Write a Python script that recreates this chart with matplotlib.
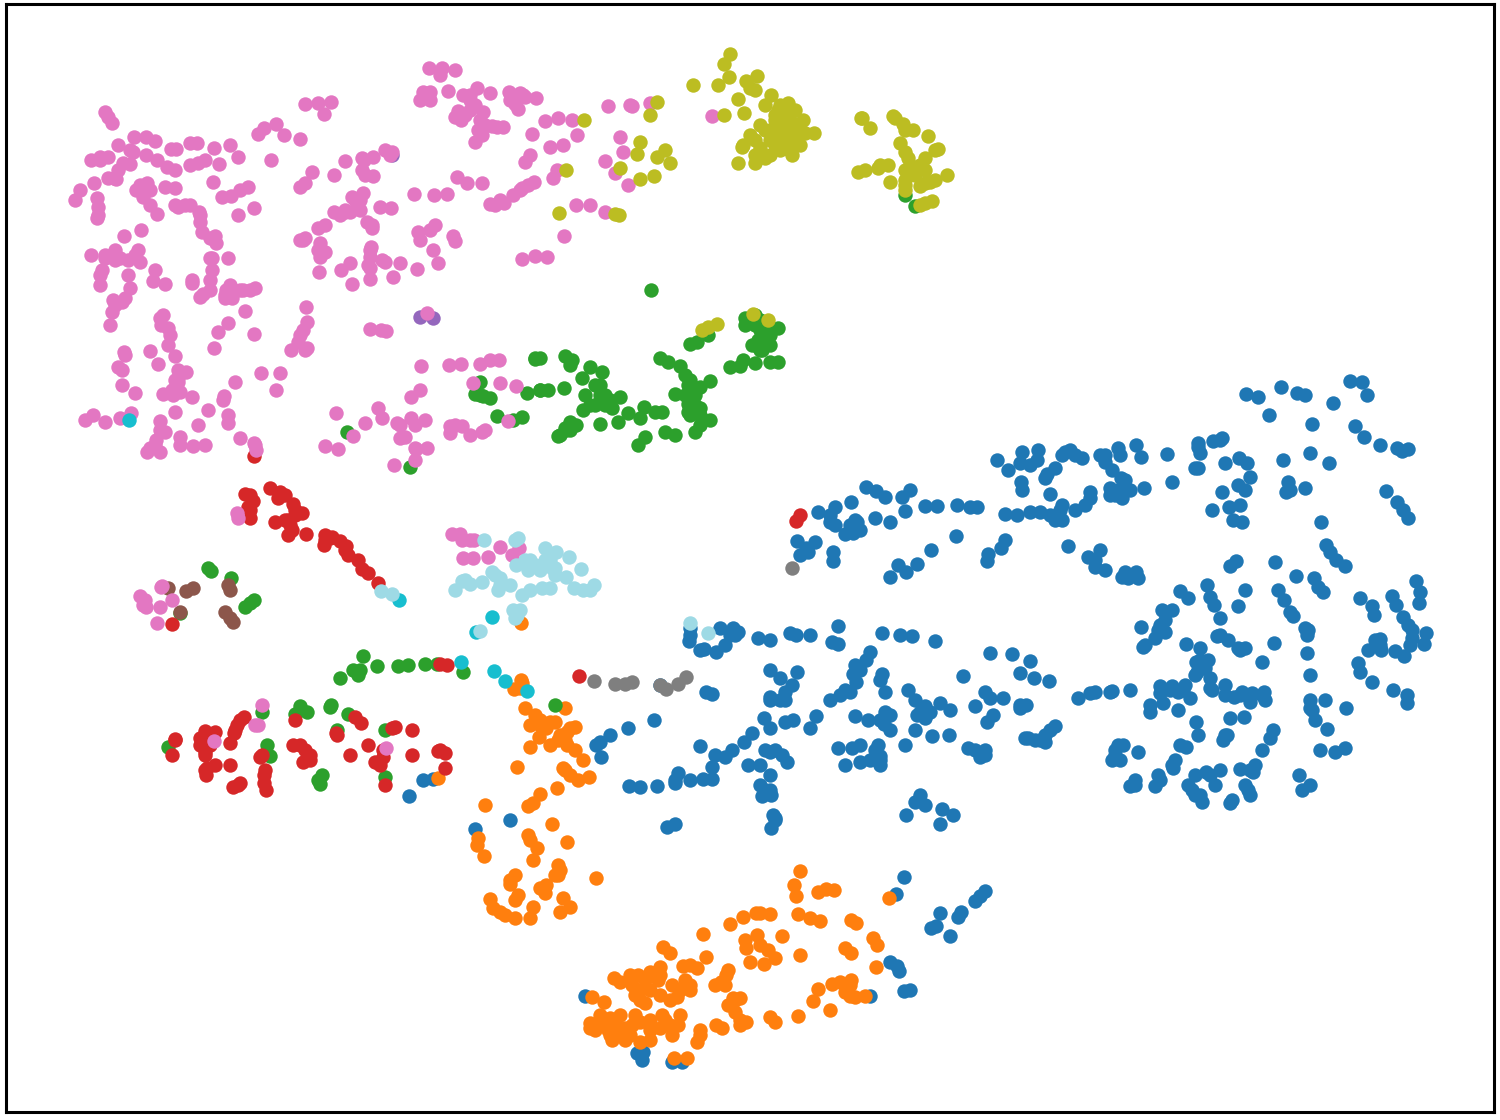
import matplotlib
matplotlib.use("Agg")
import matplotlib.pyplot as plt

pink = [(105,112),(108,117),(112,123),(134,137),(146,137),(155,141),(118,145),(133,152),(146,155),(157,160),(171,149),(176,149),(190,143),(197,143),(214,148),(230,145),(238,157),(219,164),(205,160),(198,163),(167,167),(100,157),(91,160),(108,157),(123,163),(130,164),(108,178),(116,179),(94,183),(80,190),(75,200),(97,198),(98,207),(97,218),(147,183),(142,190),(136,190),(143,197),(150,205),(157,214),(175,188),(178,207),(190,205),(199,212),(200,222),(202,232),(210,238),(216,243),(213,182),(222,197),(231,196),(240,190),(248,187),(254,208),(238,215),(175,170),
(264,128),(276,124),(284,135),(300,139),(271,160),(258,134),(305,104),(318,103),(331,102),(324,114),(91,255),(105,258),(115,250),(124,236),(141,230),(138,250),(140,262),(120,258),(102,270),(100,285),(130,288),(153,281),(165,284),(128,275),(155,270),(113,300),(125,298),(112,312),(110,325),(124,352),(118,367),(122,370),(158,364),(150,351),(163,315),(161,325),(170,335),(168,345),(175,356),(178,370),(186,372),(122,385),(135,393),(178,382),(180,392),(192,397),(215,236),(212,258),(228,258),(212,270),(210,280),(192,283),(203,294),(226,290),(232,298),(243,290),(255,288),(245,311),(228,323),(218,332),(214,348),(254,334),(261,373),(280,373),(276,390),(235,382),(224,396),(228,415),(228,423),(208,410),(198,425),(205,445),(180,437),(193,446),(175,412),(160,421),(163,394),(173,395),(85,420),(93,415),(105,422),(120,418),(131,413),(165,432),(156,440),(147,452),(160,452),(240,438),(254,443),(256,450),
(306,307),(307,322),(303,330),(298,342),(307,348),(291,350),(370,329),(381,330),(386,331),(312,172),(305,183),(300,187),(334,175),(345,161),(364,160),(373,157),(385,150),(392,152),(365,175),(373,176),(352,197),(363,193),(360,210),(350,212),(340,215),(334,212),(318,228),(305,238),(320,243),(320,257),(319,272),(341,270),(350,263),(371,247),(370,257),(368,265),(382,260),(352,284),(370,279),(393,277),(400,263),(417,269),(438,263),(433,250),(453,236),(455,241),(435,225),(418,232),(414,194),(434,195),(447,194),(457,177),(467,183),(482,183),(372,225),(380,207),(391,208),(420,100),(429,68),(442,68),(455,70),(423,92),(430,100),(448,91),(470,95),(477,88),(490,93),(509,92),(523,95),(536,98),(515,104),(518,109),(458,111),(461,120),(480,120),(492,126),(503,127),(475,142),(482,135),(532,134),(545,121),(558,118),(572,120),(577,135),(563,145),(550,147),(530,155),(525,162),(557,170),(495,205),(504,203),(513,195),(522,188),(534,182),(553,178),(608,106),(632,106),(650,103),(620,137),(605,161),(623,152),(615,173),(628,185),(576,205),(590,205),(605,212),(564,236),(522,259),(535,256),(547,257),(712,116),(421,366),(449,365),(461,364),(480,364),(490,360),(499,360),(500,383),(516,386),(473,383),(420,390),(411,397),(336,413),(325,446),(338,449),(353,436),(365,423),(378,408),(382,418),(397,423),(411,418),(425,420),(405,437),(416,449),(427,448),(400,438),(450,426),(462,426),(470,435),(482,432),(508,421),(394,465),(415,460),(460,534),(452,534),(463,558),(473,558),(488,557),(474,540),(500,547),(512,555),(519,548),(161,587),(140,596),(146,607),(160,607),(157,623),(172,600),(237,513),(238,518),(427,313),(214,741),(258,725),(386,748),(262,705),
(460,118),(455,117),(470,100),(475,105),(485,125),(478,130),(440,75),(430,92),(510,100),(525,97),(483,112),(497,127),(360,200),(345,212),(355,200),(345,210),(372,228),(367,222),(325,225),(303,240),(300,240),(318,250),(325,252),(430,230),(420,240),(490,204),(500,200),(520,190),(528,185),(145,185),(150,190),(140,185),(165,187),(175,205),(185,205),(200,215),(98,215),(115,260),(105,255),(135,255),(128,260),(100,275),(115,305),(122,302),(230,285),(225,298),(240,290),(210,290),(200,297),(192,280),(160,318),(168,328),(125,355),(178,378),(172,390),(155,445),(150,448),(180,445),(255,445),(415,425),(400,425),(455,425),(450,433),(485,430),(462,540),(470,540),(118,170),(100,160),(114,178),(190,165),(130,150),(210,258),(225,295),(390,155),(305,350),(300,335),(385,262),(370,250),(362,170),(362,158),(520,93),(463,95),(470,110),(465,115),(630,105),(370,268),(250,290),(145,600),(143,605),(162,586),(255,725),(175,380),(160,430),(223,400),(415,448)]
blue = [(1246,394),(1258,397),(1281,387),(1297,393),(1305,395),(1333,403),(1350,381),(1362,382),(1367,395),(1269,415),(1312,424),(1355,426),(1364,437),(1380,445),(1397,448),(1408,449),(1402,451),(1310,453),(1283,460),(1329,463),(1222,438),(1213,441),(1198,443),(1200,453),(1239,458),(1247,463),(1225,463),(1198,468),(1167,454),(1136,445),(1141,457),(1118,448),(1100,455),(1070,450),(1062,455),(1038,450),(1022,452),(997,460),(1020,463),(1008,470),(1037,460),(1055,468),(1047,474),(1082,458),(1105,462),(1112,470),(1121,478),(1144,488),(1172,482),(1250,477),(1238,485),(1288,482),(1286,492),(1305,488),(1245,490),(1222,492),(1240,505),(1229,507),(1212,510),(1233,520),(1242,522),(1125,488),(1110,495),(1090,492),(1122,498),(1085,505),(1021,482),(1022,490),(1050,494),(1062,505),(1075,510),(1055,520),(1040,512),(1030,512),(1017,515),(1005,514),(977,507),(970,507),(957,505),(937,506),(925,506),(905,511),(910,490),(902,497),(885,497),(876,491),(866,487),(851,502),(835,507),(818,512),(830,522),(857,522),(890,522),(875,518),(853,533),(845,534),(815,542),(806,548),(797,541),(800,555),(833,552),(833,561),(956,536),(931,550),(917,564),(898,565),(906,572),(890,577),(1005,540),(1001,548),(988,554),(987,561),(1068,546),(1100,550),(1088,557),(1095,567),(1105,570),(1125,572),(1136,572),(1122,577),(1138,578),(1321,522),(1326,545),(1330,552),(1336,560),(1345,566),(1386,491),(1397,502),(1403,510),(1408,518),(1236,561),(1230,566),(1275,562),(1296,576),(1314,578),(1318,587),(1323,592),(1290,612),(1293,616),(1278,590),(1284,600),(1245,590),(1238,606),(1207,585),(1180,591),(1188,598),(1210,597),(1214,605),(1360,598),(1372,606),(1374,615),(1392,596),(1396,605),(1416,581),(1420,592),(1419,603),(1403,617),(1408,625),(1426,633),(1412,638),(1424,644),(1380,639),(1368,650),(1381,650),(1395,651),(1404,656),(1358,663),(1360,672),(1372,682),(1393,690),(1407,695),(1407,703),(1162,610),(1172,610),(1141,627),(1143,647),(1160,625),(1155,638),(1165,632),(1186,644),(1220,618),(1217,636),(1228,640),(1238,648),(1245,648),(1200,648),(1208,660),(1196,662),(1274,643),(1262,662),(1308,630),(1307,653),(1310,675),(1325,700),(1346,708),(1312,710),(1315,720),(1327,729),(1197,672),(1210,678),(1160,686),(1172,686),(1183,690),(1130,690),(1112,691),(1090,693),(1078,698),(1190,698),(1210,688),(1225,685),(1242,692),(1252,693),(1264,692),(1234,697),(1250,702),(1150,705),(1163,703),(1178,710),(1196,722),(1230,718),(1244,717),(1198,735),(1227,735),(1223,740),(1273,730),(1270,738),(1262,750),(1118,745),(1123,745),(1115,755),(1112,760),(1138,752),(1186,747),(1175,760),(1173,768),(1206,772),(1220,770),(1240,769),(1255,765),(1253,772),(1299,775),(1320,750),(1345,748),(1335,752),(1135,780),(1130,786),(1158,775),(1155,786),(1188,785),(1195,795),(1202,802),(1215,785),(1232,800),(1245,785),(1250,795),(1310,785),(1302,790),
(690,628),(689,641),(720,628),(733,628),(738,632),(758,638),(770,640),(790,633),(796,635),(810,635),(838,626),(832,642),(838,644),(882,633),(900,635),(912,636),(935,641),(704,649),(716,652),(725,645),(870,652),(866,660),(853,674),(856,682),(882,674),(885,692),(770,670),(780,678),(797,672),(792,685),(785,692),(770,697),(780,700),(706,692),(712,694),(660,685),(990,653),(1012,654),(1030,661),(1020,673),(1034,678),(1049,681),(963,676),(908,690),(915,700),(925,706),(940,703),(950,710),(917,715),(925,718),(985,692),(990,698),(975,706),(1003,698),(1020,705),(1026,705),(993,715),(987,722),(654,720),(628,728),(610,735),(600,742),(596,745),(601,757),(700,746),(715,755),(712,767),(725,757),(732,750),(744,742),(752,733),(764,718),(770,728),(785,722),(793,720),(816,716),(810,728),(830,700),(845,690),(855,716),(868,720),(885,712),(884,724),(890,730),(878,745),(905,745),(915,730),(932,736),(949,735),(968,748),(985,750),(980,757),(1025,738),(1045,742),(1035,740),(1050,730),(1055,726),(838,748),(852,748),(860,745),(845,765),(860,762),(880,765),(880,756),(765,750),(775,750),(782,755),(748,765),(760,765),(787,762),(675,783),(678,773),(690,780),(703,779),(712,779),(629,786),(640,787),(657,786),(770,775),(760,785),(771,795),(762,796),(773,815),(775,820),(771,828),(667,827),(675,824),(920,795),(915,802),(925,805),(906,815),(942,809),(953,815),(940,824),(409,796),(423,780),(433,779),(475,829),(510,820),(985,891),(980,896),(975,901),(961,912),(958,917),(940,913),(936,926),(931,928),(950,936),(904,877),(896,894),(890,962),(897,966),(899,971),(904,991),(910,990),(870,996),(585,996),(637,1053),(642,1060),(672,1062),(682,1062),(643,1052),
(1125,480),(1118,490),(1130,490),(1110,488),(1090,498),(1060,510),(1050,515),(1062,520),(1058,515),(1045,478),(1075,455),(1120,455),(1105,455),(1065,452),(1030,465),(1115,495),(1220,440),(1198,447),(1195,468),(1290,490),(850,525),(855,528),(860,530),(830,515),(835,525),(855,520),(808,552),(1128,578),(1095,560),(1200,660),(1205,668),(1195,675),(1212,690),(1225,695),(1240,695),(1262,695),(1265,700),(1160,693),(1170,690),(1185,685),(1178,692),(1150,712),(1158,630),(1145,645),(1165,620),(1220,635),(1240,650),(1307,635),(1305,628),(1412,630),(1410,645),(1380,645),(1375,640),(1115,750),(1120,760),(1110,692),(1095,692),(1310,700),(1310,708),(1192,790),(1200,795),(1230,803),(1248,790),(1135,785),(1160,780),(1180,745),(1172,765),(1210,775),(1195,775),(1225,735),(1250,770),(860,670),(855,665),(880,680),(770,700),(785,700),(700,650),(730,635),(690,635),(735,635),(1020,708),(930,712),(920,712),(840,695),(850,692),(880,720),(890,715),(870,760),(875,750),(880,760),(770,752),(770,790),(765,790),(675,780),(775,818),(1040,740),(1028,738),(975,750),(1045,735),(985,755)]
orange = [(800,871),(794,885),(796,896),(818,892),(826,889),(834,890),(889,898),(798,914),(810,918),(820,921),(851,920),(856,923),(873,938),(877,945),(845,948),(851,953),(756,913),(760,913),(770,914),(743,917),(730,924),(745,940),(746,948),(757,935),(768,950),(782,936),(775,958),(764,964),(750,962),(800,955),(703,934),(663,947),(670,953),(876,967),(851,980),(840,982),(832,984),(818,989),(845,992),(855,997),(865,996),(813,1001),(798,1016),(830,1010),(775,1022),(770,1017),(728,970),(721,982),(715,985),(706,957),(697,968),(683,966),(685,980),(690,990),(672,985),(660,967),(650,972),(638,975),(658,980),(632,985),(620,982),(614,978),(640,990),(660,995),(677,997),(604,1002),(592,997),(645,1003),(635,1015),(610,1018),(600,1020),(590,1023),(595,1030),(608,1030),(620,1035),(632,1025),(650,1020),(662,1015),(680,1015),(678,1025),(672,1035),(650,1040),(640,1042),(625,1040),(612,1040),(700,1030),(697,1042),(716,1025),(722,1028),(733,998),(740,998),(728,1005),(735,1012),(740,1020),(746,1022),(674,1058),(687,1058),(726,975),
(520,688),(521,680),(514,689),(525,708),(535,715),(540,720),(546,728),(555,722),(565,708),(575,727),(567,732),(539,737),(530,747),(550,745),(558,740),(567,745),(575,750),(517,767),(583,760),(589,777),(563,768),(570,775),(578,780),(557,788),(540,794),(533,803),(528,806),(485,805),(552,824),(567,842),(528,835),(478,838),(477,845),(484,856),(537,848),(533,860),(558,865),(558,875),(596,878),(515,875),(510,884),(518,895),(490,899),(493,908),(505,915),(515,918),(530,918),(533,907),(546,885),(545,893),(563,898),(570,907),(560,912),(522,683),(438,778),(521,623),
(600,1025),(590,1028),(605,1025),(612,1030),(625,1028),(615,1022),(630,1035),(640,1022),(650,1030),(660,1028),(670,1025),(665,1020),(610,1035),(640,1000),(650,990),(670,1000),(680,990),(690,985),(645,980),(630,975),(660,975),(635,995),(620,1015),(600,1015),(700,1035),(735,1000),(725,985),(690,965),(740,1025),(760,945),(530,725),(550,722),(560,735),(565,740),(540,725),(570,728),(515,900),(510,880),(500,912),(560,870),(540,888),(555,875),(530,840),(565,770),(850,996),(850,985)]
green = [(651,290),(745,318),(755,315),(778,328),(760,330),(770,335),(755,345),(765,345),(745,325),(760,350),(778,362),(770,362),(755,363),(743,360),(740,366),(730,367),(708,335),(697,342),(690,344),(535,359),(565,356),(572,360),(570,365),(660,358),(668,362),(680,366),(685,375),(590,367),(602,372),(582,378),(688,385),(700,387),(710,381),(695,395),(675,394),(688,404),(700,408),(688,412),(710,420),(700,425),(665,432),(675,435),(695,432),(645,437),(638,445),(564,388),(548,390),(540,390),(527,393),(480,382),(475,394),(483,396),(490,398),(600,385),(600,395),(585,395),(620,397),(605,405),(595,405),(583,410),(612,408),(628,413),(644,407),(655,412),(662,412),(640,418),(618,422),(600,424),(570,422),(566,430),(558,436),(576,425),(522,417),(513,420),(497,416),(347,432),(410,467),(905,195),(915,206),(211,571),(231,578),(254,600),(245,607),(180,613),(363,656),(377,666),(353,670),(358,675),(340,678),(398,666),(408,665),(425,664),(437,664),(463,672),(555,705),(300,706),(295,714),(307,712),(331,705),(348,714),(262,712),(337,730),(267,745),(270,756),(168,747),(385,730),(322,775),(320,784),(385,777),
(755,325),(765,335),(758,340),(765,325),(770,345),(752,345),(762,350),(760,320),(750,320),(760,340),(770,330),(600,400),(590,405),(610,400),(595,385),(605,395),(690,380),(685,395),(690,415),(695,405),(700,415),(565,428),(570,430),(560,435),(540,358),(535,358),(540,390),(480,395),(360,670),(330,707),(300,710),(208,568),(250,603),(318,780)]
red = [(254,456),(270,488),(280,492),(245,494),(253,501),(293,504),(278,498),(302,513),(295,515),(248,507),(250,518),(275,522),(288,520),(292,530),(288,535),(306,534),(325,535),(332,537),(324,545),(340,541),(346,546),(348,555),(358,560),(362,569),(368,573),(378,583),(800,515),(796,521),(440,664),(447,665),(579,676),(244,717),(237,725),(234,733),(230,743),(205,731),(215,732),(200,738),(175,739),(205,752),(172,755),(295,720),(293,745),(305,750),(310,755),(303,762),(260,757),(230,765),(215,765),(207,768),(206,775),(238,785),(233,787),(264,775),(264,783),(266,790),(336,733),(350,755),(361,723),(355,717),(368,745),(392,728),(412,730),(383,757),(375,762),(385,785),(412,755),(438,751),(445,753),(445,768),(172,624),
(205,735),(210,745),(200,745),(205,755),(240,720),(235,730),(250,495),(285,495),(295,510),(250,510),(290,525),(325,540),(330,538),(345,550),(300,745),(310,760),(262,755),(265,770),(205,770),(240,783),(383,750),(380,765),(395,727),(440,750),(175,740),(337,735),(285,520)]
olive = [(730,54),(724,64),(729,77),(718,85),(693,85),(757,76),(746,81),(750,88),(755,90),(738,99),(744,113),(724,115),(771,95),(765,105),(788,103),(795,110),(778,110),(785,115),(803,120),(775,120),(785,125),(790,130),(795,135),(805,133),(814,133),(770,130),(780,135),(790,140),(800,145),(785,148),(775,145),(792,155),(760,125),(755,140),(743,145),(750,135),(742,147),(770,155),(755,155),(738,163),(755,163),(657,102),(650,115),(640,142),(637,154),(657,157),(665,150),(670,163),(654,176),(640,179),(620,168),(584,120),(566,170),(559,213),(615,214),(619,215),(861,118),(870,128),(893,116),(903,124),(913,130),(928,136),(938,149),(900,143),(905,152),(910,165),(925,158),(915,175),(947,175),(935,180),(925,183),(905,180),(888,165),(878,168),(858,172),(890,182),(905,190),(920,186),(932,201),(925,203),(753,314),(768,320),(717,324),(708,327),(702,330),
(780,105),(785,110),(790,120),(775,115),(780,125),(785,135),(795,125),(800,130),(775,130),(785,140),(795,145),(790,150),(780,150),(770,140),(765,130),(862,118),(895,118),(905,130),(908,158),(920,165),(905,170),(880,165),(865,170),(935,150),(930,182),(925,170),(760,148),(765,158),(920,205),(905,185)]
brown = [(168,588),(186,591),(193,588),(228,585),(230,590),(225,612),(230,618),(233,622),(180,612)]
purple = [(420,317),(433,318),(392,155)]
cyan = [(129,420),(399,600),(476,632),(492,617),(461,662),(494,671),(505,681),(527,691)]
light = [(381,591),(392,594),(484,540),(518,538),(530,560),(545,548),(556,552),(569,557),(581,569),(552,568),(540,570),(528,570),(516,565),(500,578),(492,572),(510,585),(498,590),(555,575),(566,577),(482,582),(462,581),(470,584),(455,590),(542,588),(530,590),(522,595),(550,588),(574,588),(583,590),(594,585),(590,590),(513,610),(517,615),(515,618),(480,631),(690,623),(708,633),
(515,540),(535,565),(545,560),(550,560),(555,568),(520,610),(525,560),(465,580),(500,585),(495,575)]
gray = [(792,568),(594,681),(615,684),(625,684),(632,682),(660,685),(666,689),(678,684),(686,677)]

COLORS = {"#1f77b4": blue, "#ff7f0e": orange, "#2ca02c": green, "#d62728": red,
          "#9467bd": purple, "#8c564b": brown, "#e377c2": pink, "#7f7f7f": gray,
          "#bcbd22": olive, "#17becf": cyan, "#9edae5": light}

fig = plt.figure(figsize=(15, 11.2), dpi=100)
ax = fig.add_axes([6/1500, 1-1112/1120, 1488/1500, 1108/1120])
for c, pts in COLORS.items():
    ax.scatter([p[0] for p in pts], [p[1] for p in pts], s=108, color=c, linewidths=0)
ax.set_xlim(6, 1494)
ax.set_ylim(1112, 4)
ax.set_xticks([]); ax.set_yticks([])
for s in ax.spines.values():
    s.set_linewidth(2.2)
fig.savefig("out.png", dpi=100)
